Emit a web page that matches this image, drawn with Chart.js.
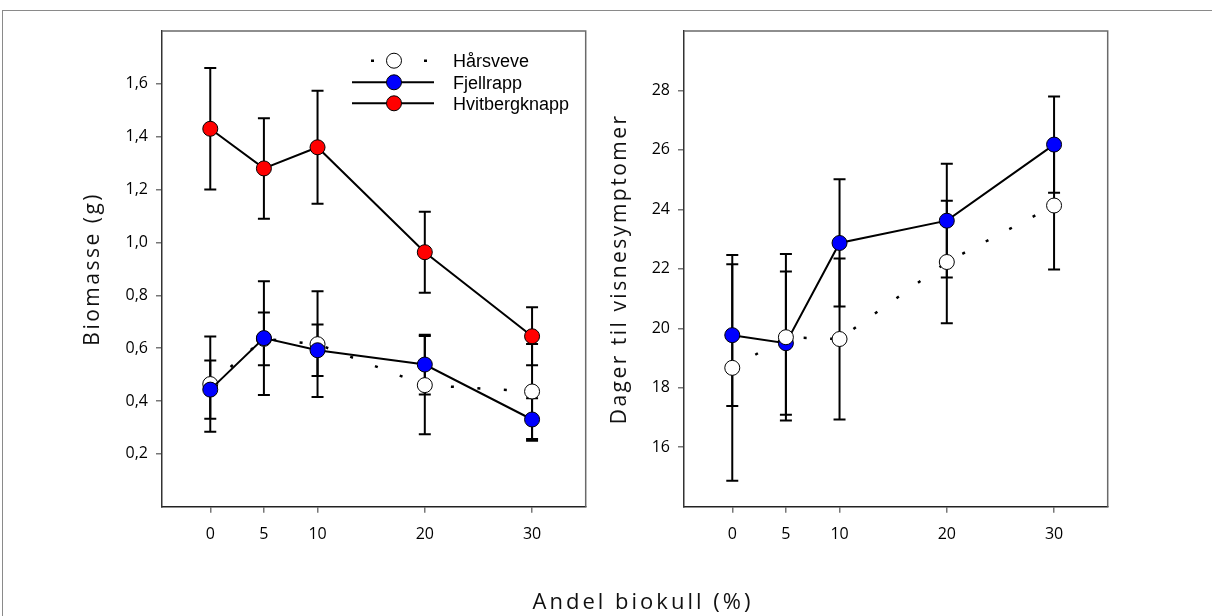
<!DOCTYPE html>
<html>
<head>
<meta charset="utf-8">
<title>Biomasse og visnesymptomer</title>
<script src="https://cdn.jsdelivr.net/npm/chart.js@4.4.1/dist/chart.umd.min.js"></script>
<style>
  body { margin: 0; background: #fff; }
  #wrap { position: relative; width: 1212px; height: 616px; overflow: hidden; }
  #frame { position: absolute; left: 2px; top: 10px; width: 1300px; height: 700px;
           border-left: 1.5px solid #8a8a8a; border-top: 1.5px solid #8a8a8a; }
  #left { position: absolute; left: 0; top: 0; }
  #right { position: absolute; left: 600px; top: 0; }
  #xtitle { position: absolute; left: 0; width: 1286px; top: 585px; text-align: center;
            font: 22px "Open Sans", sans-serif; letter-spacing: 3px; color: #111; }
</style>
</head>
<body>
<div id="wrap">
  <div id="frame"></div>
  <canvas id="left" width="600" height="616"></canvas>
  <canvas id="right" width="612" height="616"></canvas>
  <div id="xtitle">Andel biokull (%)</div>
</div>
<script>
// andel biokull (%)
const andel = [0, 5, 10, 20, 30]
const xTicks = [0, 5, 10, 20, 30]
const bioTicks = [0.2, 0.4, 0.6, 0.8, 1.0, 1.2, 1.4, 1.6]
const dagTicks = [16, 18, 20, 22, 24, 26, 28]

// biomasse (g), mean and error
const bioHarsveve = [0.464, 0.635, 0.615, 0.46, 0.436]
const bioHarsveveErr = [0.18, 0.10, 0.20, 0.186, 0.18]
const bioFjellrapp = [0.443, 0.638, 0.592, 0.538, 0.33]
const bioFjellrappErr = [0.11, 0.215, 0.097, 0.113, 0.08]
const bioHvitberg = [1.43, 1.28, 1.36, 0.963, 0.645]
const bioHvitbergErr = [0.23, 0.19, 0.214, 0.153, 0.11]

// dager til visnesymptomer, mean and error
const dagHarsveve = [18.67, 19.70, 19.64, 22.23, 24.13]
const dagHarsveveErr = [3.8, 2.8, 2.71, 2.06, 2.15]
const dagFjellrapp = [19.77, 19.5, 22.87, 23.62, 26.18]
const dagFjellrappErr = [2.385, 2.41, 2.14, 1.915, 1.62]

const legendNames = ['Hårsveve', 'Fjellrapp', 'Hvitbergknapp']

const tickFont = { family: "'Open Sans', sans-serif", size: 16 }
const titleFont = { family: "'Open Sans', sans-serif", size: 21 }

function points(values){
  return andel.map((x, i) => ({ x: x, y: values[i] }))
}

function series(label, values, errors, color, dotted){
  return {
    label: label,
    data: points(values),
    errors: errors,
    borderColor: '#000',
    borderWidth: dotted ? 2.5 : 2,
    borderDash: dotted ? [3, 23.5] : [],
    pointRadius: 7.5,
    pointHoverRadius: 7.5,
    pointBorderWidth: 1,
    pointBorderColor: '#000',
    pointBackgroundColor: color,
    tension: 0,
    fill: false
  }
}

// title letter spacing only, ticks are drawn later (z: 1)
const titleSpacing = {
  id: 'titleSpacing',
  beforeDraw(chart){ chart.ctx.letterSpacing = '2.5px' },
  beforeDatasetsDraw(chart){ chart.ctx.letterSpacing = '0px' }
}

const errorBars = {
  id: 'errorBars',
  beforeDatasetsDraw(chart){
    const ctx = chart.ctx
    const x = chart.scales.x
    const y = chart.scales.y
    ctx.save()
    ctx.strokeStyle = '#000'
    ctx.lineWidth = 2
    chart.data.datasets.forEach(ds => {
      ds.data.forEach((p, i) => {
        const px = x.getPixelForValue(p.x)
        const top = y.getPixelForValue(p.y + ds.errors[i])
        const bot = y.getPixelForValue(p.y - ds.errors[i])
        ctx.beginPath()
        ctx.moveTo(px, top)
        ctx.lineTo(px, bot)
        ctx.moveTo(px - 6, top)
        ctx.lineTo(px + 6, top)
        ctx.moveTo(px - 6, bot)
        ctx.lineTo(px + 6, bot)
        ctx.stroke()
      })
    })
    ctx.restore()
  }
}

// top and right side of the panel box
const panelBox = {
  id: 'panelBox',
  afterDraw(chart){
    const { ctx, chartArea: a } = chart
    ctx.save()
    ctx.strokeStyle = '#6a6a6a'
    ctx.lineWidth = 1.5
    ctx.beginPath()
    ctx.moveTo(a.left, a.top)
    ctx.lineTo(a.right, a.top)
    ctx.lineTo(a.right, a.bottom)
    ctx.stroke()
    ctx.restore()
  }
}

const legendBox = {
  id: 'legendBox',
  afterDraw(chart){
    const { ctx, chartArea: a } = chart
    const x1 = a.left + 190
    const x2 = a.left + 272
    const mx = a.left + 232
    const tx = a.left + 291
    const rows = [a.top + 29.7, a.top + 51.3, a.top + 72.3]
    ctx.save()
    legendNames.forEach((name, row) => {
      const ds = chart.data.datasets.find(d => d.label === name)
      const ry = rows[row]
      ctx.strokeStyle = '#000'
      ctx.lineWidth = ds.borderWidth
      ctx.setLineDash(ds.borderDash)
      ctx.lineDashOffset = ds.borderDash.length ? 7.5 : 0
      ctx.beginPath()
      ctx.moveTo(x1, ry)
      ctx.lineTo(x2, ry)
      ctx.stroke()
      ctx.setLineDash([])
      ctx.beginPath()
      ctx.arc(mx, ry, 7.5, 0, Math.PI * 2)
      ctx.fillStyle = ds.pointBackgroundColor
      ctx.fill()
      ctx.lineWidth = 1
      ctx.stroke()
      ctx.fillStyle = '#000'
      ctx.font = "18px 'Liberation Sans', Arial, sans-serif"
      ctx.textAlign = 'left'
      ctx.textBaseline = 'alphabetic'
      ctx.fillText(name, tx, ry + 6.5)
    })
    ctx.restore()
  }
}

function panelOptions(opts){
  return {
    responsive: false,
    animation: false,
    events: [],
    layout: { padding: { left: 0, top: 31, right: opts.padRight, bottom: 69.3 } },
    plugins: { legend: { display: false }, tooltip: { enabled: false } },
    scales: {
      x: {
        type: 'linear',
        min: -4.5,
        max: 35,
        afterBuildTicks: scale => { scale.ticks = xTicks.map(v => ({ value: v })) },
        afterFit: scale => { scale.height = 40 },
        ticks: { font: tickFont, color: '#000', padding: 12, z: 1 },
        grid: { drawOnChartArea: false, drawTicks: true, tickLength: 6, color: '#777', lineWidth: 1.5 },
        border: { display: true, color: '#222', width: 1.5 }
      },
      y: {
        min: opts.min,
        max: opts.max,
        afterBuildTicks: scale => { scale.ticks = opts.ticks.map(v => ({ value: v })) },
        afterFit: scale => { scale.width = opts.axisWidth },
        ticks: { font: tickFont, color: '#000', padding: 8, z: 1, callback: opts.format },
        grid: { drawOnChartArea: false, drawTicks: true, tickLength: 6, color: '#777', lineWidth: 1.5 },
        border: { display: true, color: '#333', width: 1.5 },
        title: { display: true, text: opts.title, font: titleFont, color: '#111', padding: { top: opts.titlePad, bottom: 0 } }
      }
    }
  }
}

new Chart(document.getElementById('left'), {
  type: 'line',
  data: {
    datasets: [
      series('Hvitbergknapp', bioHvitberg, bioHvitbergErr, '#ff0000', false),
      series('Fjellrapp', bioFjellrapp, bioFjellrappErr, '#0000ff', false),
      series('Hårsveve', bioHarsveve, bioHarsveveErr, '#ffffff', true)
    ]
  },
  options: panelOptions({
    min: 0, max: 1.8, ticks: bioTicks, axisWidth: 162, padRight: 14.3, titlePad: 80.4,
    title: 'Biomasse (g)',
    format: v => v.toFixed(1).replace('.', ',')
  }),
  plugins: [titleSpacing, errorBars, panelBox, legendBox]
})

new Chart(document.getElementById('right'), {
  type: 'line',
  data: {
    datasets: [
      series('Hårsveve', dagHarsveve, dagHarsveveErr, '#ffffff', true),
      series('Fjellrapp', dagFjellrapp, dagFjellrappErr, '#0000ff', false)
    ]
  },
  options: panelOptions({
    min: 14, max: 30, ticks: dagTicks, axisWidth: 84, padRight: 104.3, titlePad: 7.4,
    title: 'Dager til visnesymptomer',
    format: v => String(v)
  }),
  plugins: [titleSpacing, errorBars, panelBox]
})
</script>
</body>
</html>
